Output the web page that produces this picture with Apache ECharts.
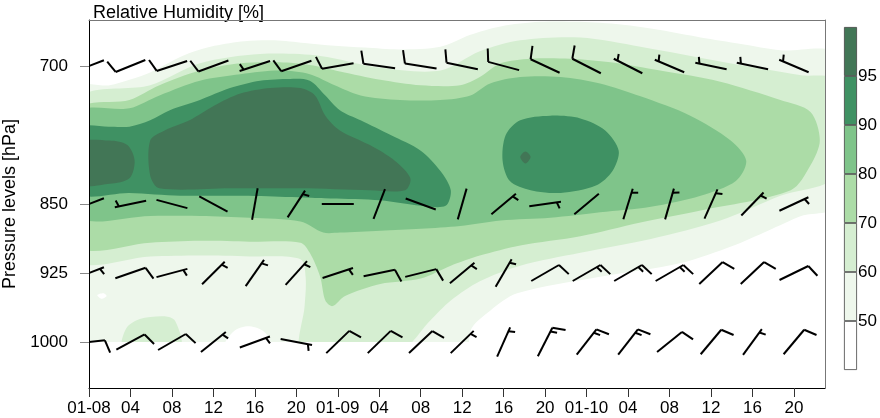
<!DOCTYPE html>
<html><head><meta charset="utf-8">
<script src="https://cdn.jsdelivr.net/npm/echarts@6/dist/echarts.min.js"></script>
<style>html,body{margin:0;padding:0;background:#fff}#c{width:880px;height:418px}</style>
</head><body><div id="c"></div>
<script>
// ---- axis ticks ----
const tickHours = [0,4,8,12,16,20,24,28,32,36,40,44,48,52,56,60,64,68];
const xTickLabels = ['01-08','04','08','12','16','20','01-09','04','08','12','16','20','01-10','04','08','12','16','20'];
const yTicks = [700,850,925,1000];
const cbLabels = ['','50','60','70','80','90','95',''];
const levelColors = ['#ffffff','#eef7ec','#d5eed1','#acdca7','#7fc48a','#3f9163','#427656'];

// ---- wind barbs (direction deg from north, speed in barb units) ----
const barbTimes = [0,4,8,12,16,20,24,28,32,36,40,44,48,52,56,60,64,68];
const dir700  = [249,248,252,250,252,251,260,278,279,282,285,295,297,297,293,282,282,293];
const spd700  = [10,10,10,10,5,10,10,10,10,10,10,10,10,5,5,5,5,5];
const dir850  = [249,258,285,298,10,33,270,21,290,16,50,82,50,17,16,24,44,65];
const spd850  = [5,5,0,0,0,5,0,0,0,0,5,5,0,5,5,5,5,5];
const dir925  = [69,71,75,45,35,42,72,78,76,50,30,60,60,60,60,47,47,64];
const spd925  = [5,10,5,5,5,5,5,10,10,5,5,10,15,15,15,10,10,10];
const dir1000 = [84,62,60,51,70,101,46,46,47,46,24,27,38,38,51,40,36,40];
const spd1000 = [10,10,10,5,5,5,10,10,10,5,5,15,15,15,10,10,5,10];

// ---- relative humidity contour regions [hour, hPa] ----
const rh50 = [
 [[-1,724],[2.0,721],[3.9,715],[5.9,707],[7.8,696],[9.7,686],[12.1,678],[15.0,673],[17.9,672],[20.8,675],[23.7,678],[26.6,680],[30.0,682],[33.9,679],[36.8,666],[39.7,657],[43.5,652],[47.4,652],[51.3,655],[55.1,661],[59.0,669],[62.9,676],[66.7,683],[72,688],[72,852],[68.7,863],[65.5,879],[62.2,895],[57.1,914],[49.3,929],[41.3,947],[38.7,966],[36.8,988],[36.0,1060],[-1,1060]]
];
const rhBelow50 = [
 [[13.1,1005],[14.0,988],[15.5,983],[17.0,990],[17.5,1005]],
 [[0.8,949],[1.4,947],[1.7,950],[1.2,953]]
];
const rh60 = [
 [[-1,737],[5.9,721],[10.7,697],[16.5,687],[22.3,689],[28.1,702],[33.9,705],[37.7,684],[41.6,672],[47.4,669],[53.2,679],[60.9,695],[68.7,710],[72,716],[72,819],[66.7,841],[60.9,868],[54.2,888],[47.4,903],[41.6,917],[37.7,934],[34.9,955],[32.9,977],[30.0,1010],[24.2,1010],[20.4,1010],[20.8,961],[20.9,930],[20.4,910],[15.5,907],[10.7,906],[5.9,907],[-1,910]],
 [[3.3,1005],[3.6,985],[4.9,975],[7.3,972],[8.3,977],[8.8,1005]]
];
const rh70 = [
 [[-1,748],[3.9,737],[6.8,721],[10.7,705],[14.6,697],[18.4,696],[21.3,699],[24.2,706],[28.1,715],[32.0,721],[35.8,721],[37.7,712],[39.7,697],[42.6,692],[46.4,692],[50.3,696],[55.1,705],[60.9,717],[66.7,737],[69.6,750],[70.5,781],[69.6,808],[67.7,835],[59.0,857],[53.2,870],[47.4,885],[41.6,895],[37.7,906],[34.9,917],[32.0,931],[28.1,937],[24.7,950],[23.5,961],[22.8,955],[22.3,929],[21.3,903],[20.4,892],[15.5,891],[10.7,890],[5.9,892],[-1,895]]
];
const rh80 = [
 [[-1,751],[3.9,746],[6.8,732],[10.7,716],[14.6,709],[18.4,705],[21.3,709],[23.7,721],[26.2,732],[30.0,737],[33.9,737],[36.8,732],[38.7,719],[41.6,712],[45.5,712],[49.3,719],[53.2,733],[58.0,754],[61.9,781],[63.4,803],[62.4,825],[59.0,841],[54.2,853],[49.3,859],[44.5,865],[39.7,868],[35.8,874],[32.0,877],[28.1,879],[24.2,881],[22.6,881],[20.4,869],[15.5,865],[10.7,863],[5.9,863],[-1,863]]
];
const rh90 = [
 [[-1,768],[2.0,766],[3.9,766],[5.9,759],[7.8,748],[10.7,737],[13.6,724],[16.5,716],[19.4,714],[21.3,716],[22.8,732],[24.2,748],[26.2,759],[29.1,775],[32.0,792],[33.9,814],[34.9,835],[34.4,852],[32.0,852],[28.1,846],[23.3,844],[18.4,842],[13.6,841],[8.8,841],[3.9,838],[-1,838]],
 [[40.2,775],[41.6,759],[44.5,754],[47.4,757],[49.8,770],[51.1,792],[50.5,814],[48.9,830],[45.5,838],[42.6,835],[40.6,825],[39.9,803]]
];
const rh95 = [
 [[-1,784],[2.0,781],[3.7,786],[4.4,803],[3.9,822],[2.0,828],[-1,828]],
 [[5.9,781],[7.3,770],[9.7,759],[12.1,743],[14.6,730],[17.5,724],[20.4,724],[21.8,732],[22.8,754],[24.2,770],[27.1,786],[29.5,803],[31.0,822],[30.5,835],[27.1,835],[20.4,833],[13.6,833],[6.8,833],[5.9,819]],
 [[41.6,799],[42.1,793],[42.6,799],[42.1,806]]
];
const noDataBelow = [[[-1,1000],[72,1000],[72,1060],[-1,1060]]];

const FONT = 'Liberation Sans, Arial, Helvetica, sans-serif';

const layers = [
  [rh50, levelColors[1], 0.3],
  [rhBelow50, levelColors[0], 0.3],
  [rh60, levelColors[2], 0.3],
  [rh70, levelColors[3], 0.3],
  [rh80, levelColors[4], 0.3],
  [rh90, levelColors[5], 0.3],
  [rh95, levelColors[6], 0.3],
  [noDataBelow, '#ffffff', 0]
];
const contourList = [];
layers.forEach(([polys, color, sm]) => polys.forEach(pts => contourList.push({pts, color, sm})));
const contourData = contourList.map((c, i) => [c.pts[0][0], c.pts[0][1], i]);

const barbData = [];
[[700,dir700,spd700],[850,dir850,spd850],[925,dir925,spd925],[1000,dir1000,spd1000]].forEach(([lev, dirs, spds]) => {
  barbTimes.forEach((t, i) => barbData.push([t, lev, dirs[i], spds[i]]));
});

function renderContour(params, api) {
  const c = contourList[params.dataIndex];
  return {
    type: 'polygon',
    shape: { points: c.pts.map(p => api.coord(p)), smooth: c.sm },
    style: { fill: c.color, stroke: null },
    silent: true
  };
}

function renderBarb(params, api) {
  const c = api.coord([api.value(0), api.value(1)]);
  const dir = api.value(2), spd = api.value(3);
  const L = 32, full = 13.4, half = 6.7, gap = 4.2;
  const th = (dir - 90) * Math.PI / 180;
  const ux = Math.cos(th), uy = Math.sin(th);
  const fth = th + 73 * Math.PI / 180;
  const fx = Math.cos(fth), fy = Math.sin(fth);
  const tip = [c[0] + ux * L / 2, c[1] + uy * L / 2];
  const end = [c[0] - ux * L / 2, c[1] - uy * L / 2];
  const st = { stroke: '#000', lineWidth: 2, lineCap: 'butt' };
  const kids = [{ type: 'line', shape: { x1: end[0], y1: end[1], x2: tip[0], y2: tip[1] }, style: st }];
  const n10 = Math.floor(spd / 10), n5 = (spd % 10) >= 5 ? 1 : 0;
  let pos = (n10 === 0 && n5 === 1) ? gap : 0;
  for (let k = 0; k < n10; k++) {
    const b = [tip[0] - ux * pos, tip[1] - uy * pos];
    kids.push({ type: 'line', shape: { x1: b[0], y1: b[1], x2: b[0] + fx * full, y2: b[1] + fy * full }, style: st });
    pos += gap;
  }
  if (n5) {
    const b = [tip[0] - ux * pos, tip[1] - uy * pos];
    kids.push({ type: 'line', shape: { x1: b[0], y1: b[1], x2: b[0] + fx * half, y2: b[1] + fy * half }, style: st });
  }
  return { type: 'group', children: kids, silent: true };
}

const cbSeries = levelColors.map((col, i) => ({
  type: 'bar', xAxisIndex: 1, yAxisIndex: 1, stack: 'cb', data: [1],
  barWidth: '100%', itemStyle: { color: col, borderColor: '#444', borderWidth: 0.8 },
  silent: true, z: 3
}));

const frameAxis = { show: true, onZero: false, lineStyle: { color: '#777', width: 1 } };

const chart = echarts.init(document.getElementById('c'), null, { renderer: 'canvas' });
chart.setOption({
  animation: false,
  backgroundColor: '#ffffff',
  textStyle: { fontFamily: FONT },
  title: { text: 'Relative Humidity [%]', left: 88, top: -1,
    textStyle: { fontFamily: FONT, fontSize: 18, fontWeight: 'normal', color: '#000' } },
  grid: [
    { left: 89, right: 55, top: 20, bottom: 30, show: false, containLabel: false, outerBoundsMode: 'none' },
    { left: 844, top: 27, width: 13, height: 343, containLabel: false, outerBoundsMode: 'none' }
  ],
  xAxis: [
    { type: 'value', gridIndex: 0, min: 0, max: 71, interval: 4, z: 10,
      axisLine: { show: true, onZero: false, lineStyle: { color: '#000', width: 1 } },
      axisTick: { show: true, length: 9, customValues: tickHours, lineStyle: { color: '#333' } },
      axisLabel: { customValues: tickHours, margin: 12, fontSize: 17, color: '#000', fontFamily: FONT,
        formatter: v => xTickLabels[tickHours.indexOf(v)] || '' },
      splitLine: { show: false } },
    { type: 'category', gridIndex: 1, data: ['rh'], show: false },
    { type: 'value', gridIndex: 0, min: 0, max: 71, position: 'top', z: 10,
      axisLine: frameAxis, axisTick: { show: false }, axisLabel: { show: false }, splitLine: { show: false } }
  ],
  yAxis: [
    { type: 'value', gridIndex: 0, min: 650, max: 1050, interval: 25, inverse: true, z: 10,
      axisLine: { show: true, onZero: false, lineStyle: { color: '#000', width: 1 } },
      axisTick: { show: true, length: 9, customValues: yTicks, lineStyle: { color: '#888' } },
      axisLabel: { customValues: yTicks, margin: 21, fontSize: 17, color: '#000', fontFamily: FONT,
        formatter: v => String(v) },
      splitLine: { show: false },
      name: 'Pressure levels [hPa]', nameLocation: 'middle', nameRotate: 90, nameGap: 70,
      nameTextStyle: { fontSize: 18, color: '#000', fontFamily: FONT } },
    { type: 'value', gridIndex: 1, min: 0, max: 7, interval: 1, position: 'right',
      axisLine: { show: false }, axisTick: { show: false }, splitLine: { show: false },
      axisLabel: { margin: 1, fontSize: 17, color: '#000', fontFamily: FONT, formatter: v => cbLabels[v] || '' } },
    { type: 'value', gridIndex: 0, min: 650, max: 1050, inverse: true, position: 'right', z: 10,
      axisLine: frameAxis, axisTick: { show: false }, axisLabel: { show: false }, splitLine: { show: false } }
  ],
  series: [
    { type: 'custom', xAxisIndex: 0, yAxisIndex: 0, data: contourData, renderItem: renderContour,
      clip: true, z: 1, silent: true },
    { type: 'custom', xAxisIndex: 0, yAxisIndex: 0, data: barbData, renderItem: renderBarb,
      clip: true, z: 5, silent: true }
  ].concat(cbSeries)
});
</script>
</body></html>
